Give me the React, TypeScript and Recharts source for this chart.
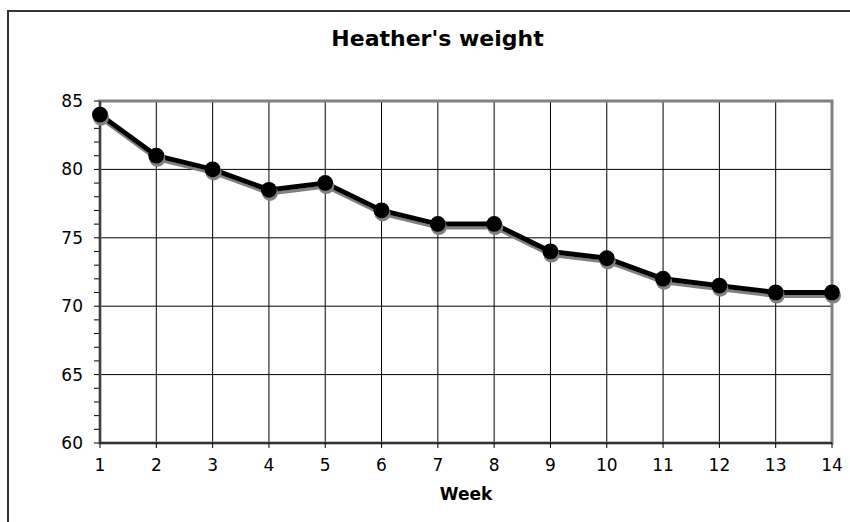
import React from "react";
import {
  LineChart,
  Line,
  XAxis,
  YAxis,
  CartesianGrid,
  ReferenceArea,
  Label,
} from "recharts";

const weeks = [1, 2, 3, 4, 5, 6, 7, 8, 9, 10, 11, 12, 13, 14];
const weights = [84, 81, 80, 78.5, 79, 77, 76, 76, 74, 73.5, 72, 71.5, 71, 71];
const yTicks = [60, 61, 62, 63, 64, 65, 66, 67, 68, 69, 70, 71, 72, 73, 74, 75, 76, 77, 78, 79, 80, 81, 82, 83, 84, 85];
const yGridValues = [65, 70, 75, 80];
const xGridValues = [2, 3, 4, 5, 6, 7, 8, 9, 10, 11, 12, 13];

const data = weeks.map((w, i) => ({ week: w, weight: weights[i] }));

const FONT = "Verdana, 'DejaVu Sans', sans-serif";

function YTick(props: any) {
  const { x, y, payload } = props;
  const major = payload.value % 5 === 0;
  return (
    <g>
      <line x1={x + 2} x2={x + 7} y1={y} y2={y} stroke="#000" strokeWidth={1} />
      {major && (
        <text
          x={x - 9}
          y={y}
          textAnchor="end"
          dominantBaseline="central"
          fontFamily={FONT}
          fontSize={17}
          fill="#000"
        >
          {payload.value}
        </text>
      )}
    </g>
  );
}

export default function App() {
  return (
    <div
      style={{
        position: "absolute",
        left: 0,
        top: 0,
        width: 850,
        height: 522,
        overflow: "hidden",
        background: "#fff",
      }}
    >
      <div
        style={{
          position: "absolute",
          left: 7,
          top: 10,
          width: 900,
          height: 600,
          border: "2px solid #333",
        }}
      />
      <div
        style={{
          position: "absolute",
          left: 0,
          top: 26,
          width: 875,
          textAlign: "center",
          fontFamily: FONT,
          fontWeight: "bold",
          fontSize: 22,
        }}
      >
        Heather's weight
      </div>
      <div style={{ position: "absolute", left: 0, top: 0 }}>
        <LineChart
          width={850}
          height={522}
          data={data}
          margin={{ top: 101, right: 18, bottom: 0, left: 0 }}
        >
          <defs>
            <filter id="shadow" x="-10%" y="-10%" width="120%" height="130%">
              <feDropShadow dx={1} dy={3} stdDeviation={0.4} floodColor="#808080" floodOpacity={1} />
            </filter>
          </defs>
          <CartesianGrid
            stroke="#000"
            strokeWidth={1}
            horizontalValues={yGridValues}
            verticalValues={xGridValues}
          />
          <ReferenceArea
            x1={1}
            x2={14}
            y1={60}
            y2={85}
            fill="none"
            stroke="#808080"
            strokeWidth={3}
            ifOverflow="visible"
          />
          <XAxis
            dataKey="week"
            type="number"
            domain={[1, 14]}
            ticks={weeks}
            height={79}
            interval={0}
            axisLine={{ stroke: "#333", strokeWidth: 2 }}
            tickLine={{ stroke: "#000" }}
            tickSize={5}
            tick={{ fill: "#000", fontFamily: FONT, fontSize: 17 }}
            tickMargin={11}
          >
            <Label
              value="Week"
              position="insideBottom"
              offset={22}
              style={{ fontFamily: FONT, fontWeight: "bold", fontSize: 17, fill: "#000" }}
            />
          </XAxis>
          <YAxis
            type="number"
            domain={[60, 85]}
            ticks={yTicks}
            interval={0}
            width={100}
            axisLine={{ stroke: "#000", strokeWidth: 1 }}
            tickLine={false}
            tick={<YTick />}
          />
          <Line
            type="linear"
            dataKey="weight"
            stroke="#000"
            strokeWidth={5}
            dot={{ r: 8, fill: "#000", stroke: "#000", strokeWidth: 0 }}
            activeDot={false}
            filter="url(#shadow)"
            isAnimationActive={false}
          />
        </LineChart>
      </div>
    </div>
  );
}
